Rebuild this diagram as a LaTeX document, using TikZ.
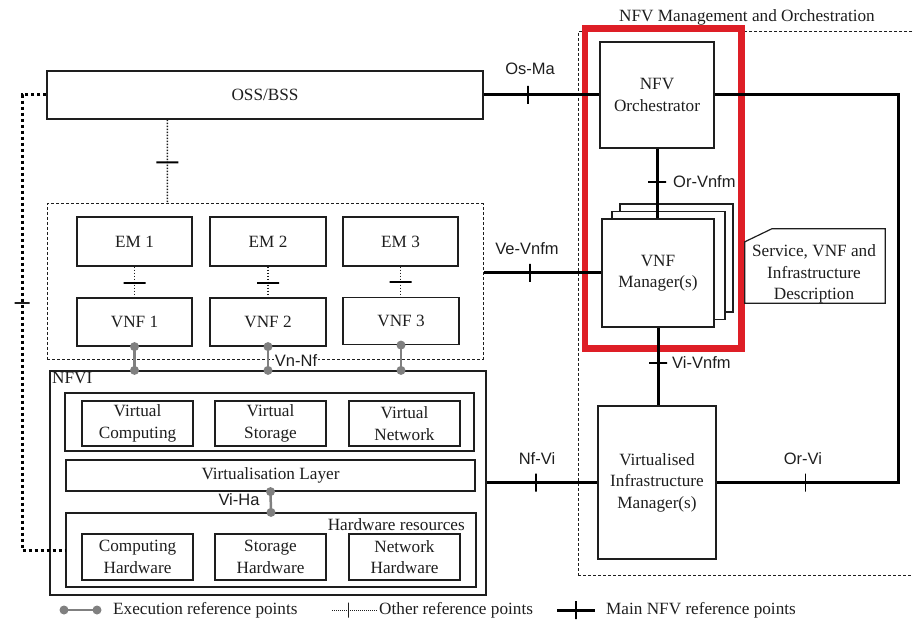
\documentclass[tikz,border=0pt]{standalone}
\usepackage{fontspec}
\setmainfont{Liberation Serif}
\newfontfamily\lblfont{Liberation Sans}
\usetikzlibrary{calc}
\definecolor{redbox}{RGB}{222,30,38}
\definecolor{execgray}{RGB}{128,128,128}
\definecolor{ink}{RGB}{30,30,30}
\tikzset{
 box/.style={draw=ink, line width=1.2pt, fill=white, inner sep=0pt, align=center, text=ink, font=\fontsize{17.2}{21.5}\selectfont},
 dashbox/.style={draw=ink, line width=1pt, dash pattern=on 3pt off 2pt, inner sep=0pt},
 mainline/.style={draw=black, line width=3pt},
 thindot/.style={draw=ink, line width=1.5pt, dash pattern=on 1.5pt off 1.5pt},
 thickdot/.style={draw=black, line width=3pt, dash pattern=on 3pt off 3pt},
 execline/.style={draw=execgray, line width=2.5pt},
 epoint/.style={circle, draw=none, fill=execgray, inner sep=0pt, minimum size=9pt},
 maintick/.style={draw=black, solid, line width=1.5pt, inner sep=0pt, minimum width=0pt, minimum height=18pt, sloped},
 dottick/.style={draw=black, solid, line width=2pt, inner sep=0pt, minimum width=0pt, minimum height=22pt, sloped},
 smalltick/.style={draw=ink, solid, line width=1.3pt, inner sep=0pt, minimum width=0pt, minimum height=15pt, sloped},
 lbl/.style={font=\lblfont\fontsize{16.5}{19}\selectfont, inner sep=1pt, text=ink},
 txt/.style={font=\fontsize{17.2}{21.5}\selectfont, inner sep=0pt, align=center, text=ink},
}
\begin{document}
\begin{tikzpicture}[x=1pt,y=-1pt]
\useasboundingbox (0,0) rectangle (913,620);
% NFV MANO frame
\node[dashbox, minimum width=338pt, minimum height=543pt] (mano) at (747,303.5) {};
\node[txt] (manotitle) at (747,17) {NFV Management and Orchestration};
% red highlight
\draw[redbox, line width=6.5pt] (585,28.5) rectangle (741.5,348.5);
% left part
\node[box, minimum width=436pt, minimum height=48pt] (oss) at (265,95) {OSS/BSS};
\node[dashbox, minimum width=436pt, minimum height=155pt] (vnfdom) at (265,281.5) {};
\node[box, minimum width=115pt, minimum height=49pt] (em1) at (134.5,241.5) {EM 1};
\node[box, minimum width=116pt, minimum height=49pt] (em2) at (268,241.5) {EM 2};
\node[box, minimum width=115pt, minimum height=49pt] (em3) at (400.5,241.5) {EM 3};
\node[box, minimum width=115pt, minimum height=48pt] (vnf1) at (134.5,322) {VNF 1};
\node[box, minimum width=116pt, minimum height=48pt] (vnf2) at (268,322) {VNF 2};
\node[box, minimum width=116pt, minimum height=47pt] (vnf3) at (401,321) {VNF 3};
% NFVI
\node[box, minimum width=436pt, minimum height=224pt] (nfvi) at (268,483) {};
\node[txt, anchor=north west] (nfvilbl) at (52,372) {NFVI};
\node[box, minimum width=409pt, minimum height=58pt] (vrow) at (269.5,422) {};
\node[box, minimum width=111pt, minimum height=45pt] (vc) at (137.5,423.5) {Virtual\\Computing};
\node[box, minimum width=111pt, minimum height=45pt] (vs) at (270.5,423.5) {Virtual\\Storage};
\node[box, minimum width=111pt, minimum height=45pt] (vn) at (404.5,423.5) {Virtual\\Network};
\node[box, minimum width=409pt, minimum height=31pt] (vlayer) at (270.5,475.5) {Virtualisation Layer};
\node[box, minimum width=410pt, minimum height=74pt] (hw) at (271,550) {};
\node[txt, anchor=east] (hwlbl) at (465,525) {Hardware resources};
\node[box, minimum width=111pt, minimum height=46pt] (ch) at (137.5,557) {Computing\\Hardware};
\node[box, minimum width=111pt, minimum height=46pt] (sh) at (270.5,557) {Storage\\Hardware};
\node[box, minimum width=111pt, minimum height=46pt] (nh) at (404.5,557) {Network\\Hardware};
% MANO boxes
\node[box, minimum width=114pt, minimum height=106pt] (orch) at (657,95) {NFV\\Orchestrator};
\node[box, minimum width=113pt, minimum height=108pt] (vnfmb2) at (676.5,258) {};
\node[box, minimum width=113pt, minimum height=108pt] (vnfmb1) at (668.5,265.5) {};
\node[box, minimum width=112pt, minimum height=108pt] (vnfm) at (658,273) {VNF\\Manager(s)};
\node[box, minimum width=118pt, minimum height=153pt] (vim) at (657,482.5) {Virtualised\\Infrastructure\\Manager(s)};
\node[inner sep=0pt, minimum width=140pt, minimum height=74pt] (desc) at (815,266) {};
\draw[draw=ink, line width=1.2pt, fill=white] (desc.south west) -- ($(desc.north west)+(0,13)$) -- ($(desc.north west)+(27,0)$) -- (desc.north east) -- (desc.south east) -- cycle;
\node[txt] (desctext) at (814,274) {Service, VNF and\\Infrastructure\\Description};
% other reference points (dotted)
\coordinate (lc1) at (22,95);
\coordinate (lc2) at (22,550);
\draw[thickdot] (oss.west) -- (lc1) -- node[smalltick, pos=0.457]{} (lc2) -- (hw.west);
\draw[thindot] ($(oss.south west)+(121,0)$) -- node[dottick, pos=0.51]{} ($(vnfdom.north west)+(121,0)$);
\draw[thindot] (em1.south) -- node[dottick, pos=0.53]{} (vnf1.north);
\draw[thindot] (em2.south) -- node[dottick, pos=0.53]{} (vnf2.north);
\draw[thindot] (em3.south) -- node[dottick, pos=0.5]{} (em3.south |- vnf3.north);
% execution reference points
\draw[execline] (vnf1.south) -- node[epoint, pos=0]{} node[epoint, pos=1]{} (vnf1.south |- nfvi.north);
\draw[execline] (vnf2.south) -- node[epoint, pos=0]{} node[epoint, pos=1]{} (vnf2.south |- nfvi.north);
\draw[execline] (vnf3.south) -- node[epoint, pos=0]{} node[epoint, pos=1]{} (vnf3.south |- nfvi.north);
\node[lbl, fill=white] (vnnf) at (296,361) {Vn-Nf};
\draw[execline] (vlayer.south) -- node[epoint, pos=0]{} node[epoint, pos=1]{} (hw.north);
\node[lbl] (viha) at (239,500) {Vi-Ha};
% main NFV reference points
\draw[mainline] (oss.east) -- node[maintick, pos=0.385]{} (orch.west);
\node[lbl] (osma) at (530,69) {Os-Ma};
\coordinate (rc) at (898,95);
\draw[mainline] (orch.east) -- (rc) |- node[maintick, pos=0.755]{} (vim.east);
\node[lbl] (orvi) at (803,459) {Or-Vi};
\draw[mainline] (orch.south) -- node[maintick, pos=0.48]{} (orch.south |- vnfm.north);
\node[lbl, anchor=west] (orvnfm) at (672,182) {Or-Vnfm};
\draw[mainline] (vnfdom.east |- vnfm.west) -- node[maintick, pos=0.395]{} (vnfm.west);
\node[lbl] (vevnfm) at (527,249) {Ve-Vnfm};
\draw[mainline] (vnfm.south) -- node[maintick, pos=0.456]{} (vnfm.south |- vim.north);
\node[lbl, anchor=west] (vivnfm) at (671,363) {Vi-Vnfm};
\draw[mainline] (nfvi.east |- vim.west) -- node[maintick, pos=0.446]{} (vim.west);
\node[lbl] (nfvilabel) at (537,459) {Nf-Vi};
% legend
\coordinate (lga) at (64,610);
\coordinate (lgb) at (97,610);
\draw[execline] (lga) -- node[epoint, pos=0]{} node[epoint, pos=1]{} (lgb);
\node[txt, anchor=west] (lgt1) at (113,610) {Execution reference points};
\coordinate (lgc) at (332,610);
\coordinate (lgd) at (377,610);
\draw[thindot, line width=1pt, dash pattern=on 1pt off 1pt] (lgc) -- node[smalltick, pos=0.36]{} (lgd);
\node[txt, anchor=west] (lgt2) at (379,610) {Other reference points};
\coordinate (lge) at (557,610);
\coordinate (lgf) at (595,610);
\draw[mainline] (lge) -- node[maintick, pos=0.5]{} (lgf);
\node[txt, anchor=west] (lgt3) at (606,610) {Main NFV reference points};
\end{tikzpicture}
\end{document}
